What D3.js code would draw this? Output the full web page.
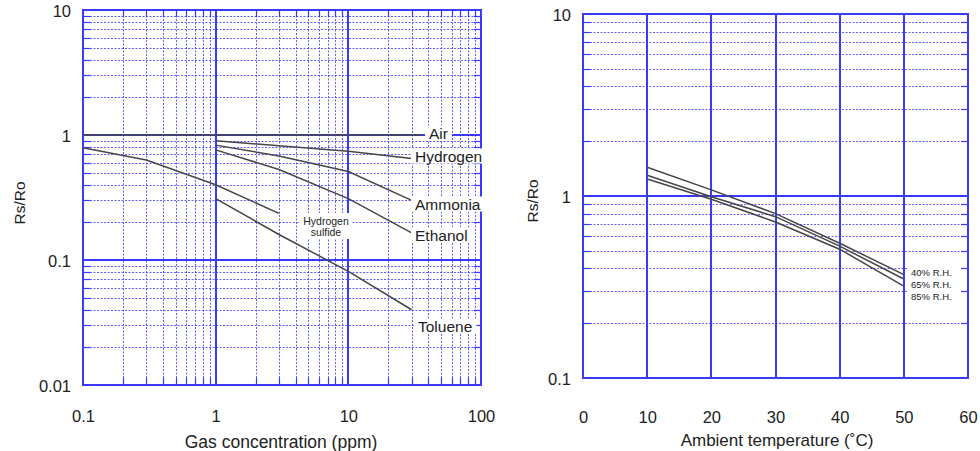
<!DOCTYPE html>
<html>
<head>
<meta charset="utf-8">
<script src="https://cdn.jsdelivr.net/npm/d3@7"></script>
<style>
  html, body { margin: 0; padding: 0; background: #fff; }
  svg text { font-family: 'Liberation Sans', Arial, sans-serif; fill: #222; }
</style>
</head>
<body>
<svg id="chart" width="980" height="451"></svg>
<script>
// ── Gas sensitivity (left chart): [ppm, Rs/Ro] ──
const airPts      = [[0.1, 1], [36, 1]];
const hydrogenPts = [[1, 0.90], [3, 0.82], [10, 0.74], [30, 0.65]];
const ammoniaPts  = [[1, 0.83], [3, 0.68], [10, 0.51], [30, 0.30]];
const ethanolPts  = [[1, 0.76], [3, 0.53], [10, 0.31], [30, 0.165]];
const h2sPts      = [[0.1, 0.79], [0.3, 0.63], [1, 0.40], [3, 0.236]];
const toluenePts  = [[1, 0.31], [3, 0.16], [10, 0.081], [30, 0.04]];

// ── Temperature dependence (right chart): [°C, Rs/Ro] ──
const rh40 = [[10, 1.44], [20, 1.08], [30, 0.80], [40, 0.55], [50, 0.37]];
const rh65 = [[10, 1.30], [20, 0.99], [30, 0.77], [40, 0.53], [50, 0.35]];
const rh85 = [[10, 1.24], [20, 0.96], [30, 0.72], [40, 0.51], [50, 0.32]];

const gasTicksX = [0.1, 1, 10, 100];
const gasTicksY = [0.01, 0.1, 1, 10];
const tempTicksX = [0, 10, 20, 30, 40, 50, 60];
const tempTicksY = [0.1, 1, 10];

const BLUE = '#3a3aff';
const LINE = '#464646';
const svg = d3.select('#chart');

function label(g, x, y, txt, size, anchor) {
    const t = g.append('text')
        .attr('x', x).attr('y', y)
        .attr('dominant-baseline', 'central')
        .attr('text-anchor', anchor || 'start')
        .attr('font-size', size + 'px')
        .text(txt);
    const b = t.node().getBBox();
    g.insert('rect', () => t.node())
        .attr('x', b.x - 4).attr('y', b.y + 1)
        .attr('width', b.width + 8).attr('height', b.height - 2)
        .attr('fill', '#fff');
    return t;
}

function frame(g, x, y, xMajor, yMajor, xMinor, yMinor) {
    const [x0, x1] = x.range();
    const [y0, y1] = y.range();
    const r = v => Math.round(v);
    // minor dashed grid
    g.append('g').selectAll('line').data(yMinor).join('line')
        .attr('x1', x0).attr('x2', x1)
        .attr('y1', d => r(y(d)) + 0.5).attr('y2', d => r(y(d)) + 0.5)
        .attr('stroke', BLUE).attr('stroke-opacity', 0.8)
        .attr('stroke-width', 1).attr('stroke-dasharray', '2,1.5');
    g.append('g').selectAll('line').data(xMinor).join('line')
        .attr('x1', d => r(x(d)) + 0.5).attr('x2', d => r(x(d)) + 0.5)
        .attr('y1', y0).attr('y2', y1)
        .attr('stroke', BLUE).attr('stroke-opacity', 0.8)
        .attr('stroke-width', 1).attr('stroke-dasharray', '2,1.5');
    // minor edge ticks
    const tk = 7;
    yMinor.forEach(d => {
        const yy = r(y(d)) + 0.5;
        g.append('line').attr('x1', x0).attr('x2', x0 + tk).attr('y1', yy).attr('y2', yy)
            .attr('stroke', BLUE).attr('stroke-width', 1.2);
        g.append('line').attr('x1', x1 - tk).attr('x2', x1).attr('y1', yy).attr('y2', yy)
            .attr('stroke', BLUE).attr('stroke-width', 1.2);
    });
    xMinor.forEach(d => {
        const xx = r(x(d)) + 0.5;
        g.append('line').attr('x1', xx).attr('x2', xx).attr('y1', y0).attr('y2', y0 - tk)
            .attr('stroke', BLUE).attr('stroke-width', 1.2);
        g.append('line').attr('x1', xx).attr('x2', xx).attr('y1', y1).attr('y2', y1 + tk)
            .attr('stroke', BLUE).attr('stroke-width', 1.2);
    });
    // major solid grid
    g.append('g').selectAll('line').data(yMajor).join('line')
        .attr('x1', x0).attr('x2', x1)
        .attr('y1', d => r(y(d))).attr('y2', d => r(y(d)))
        .attr('stroke', BLUE).attr('stroke-width', 2);
    g.append('g').selectAll('line').data(xMajor).join('line')
        .attr('x1', d => r(x(d))).attr('x2', d => r(x(d)))
        .attr('y1', y0).attr('y2', y1)
        .attr('stroke', BLUE).attr('stroke-width', 2);
    g.append('rect')
        .attr('x', x0).attr('y', y1)
        .attr('width', x1 - x0).attr('height', y0 - y1)
        .attr('fill', 'none').attr('stroke', BLUE).attr('stroke-width', 2);
}

const fmt = d => String(d);

function styleAxis(s) {
    s.select('.domain').remove();
    s.selectAll('.tick line').remove();
    s.selectAll('text').attr('font-size', '16.5px').attr('dy', '0.35em').attr('fill', '#222');
}

// ── Left chart ──
{
    const x = d3.scaleLog().domain([0.1, 100]).range([83, 481]);
    const y = d3.scaleLog().domain([0.01, 10]).range([385, 10]);
    const g = svg.append('g');

    const isDecade = v => Math.abs(Math.log10(v) - Math.round(Math.log10(v))) < 1e-6;
    const xMinor = x.ticks().filter(v => !isDecade(v));
    const yMinor = y.ticks().filter(v => !isDecade(v));
    frame(g, x, y, [1, 10], [0.1, 1], xMinor, yMinor);

    const line = d3.line().x(d => x(d[0])).y(d => y(d[1]));
    [airPts, hydrogenPts, ammoniaPts, ethanolPts, h2sPts, toluenePts].forEach(pts => {
        g.append('path').datum(pts).attr('d', line)
            .attr('fill', 'none').attr('stroke', LINE).attr('stroke-width', 1.5);
    });

    label(g, 429, 133, 'Air', 15.5);
    label(g, 415, 156, 'Hydrogen', 15.5);
    label(g, 415, 204, 'Ammonia', 15.5);
    label(g, 415, 235, 'Ethanol', 15.5);
    label(g, 418, 326, 'Toluene', 15.5);
    const hs = g.append('g');
    hs.append('rect').attr('x', 300).attr('y', 213).attr('width', 52).attr('height', 26).attr('fill', '#fff');
    hs.append('text').attr('x', 326).attr('y', 221).attr('dominant-baseline', 'central')
        .attr('text-anchor', 'middle').attr('font-size', '10.5px').text('Hydrogen');
    hs.append('text').attr('x', 326).attr('y', 232).attr('dominant-baseline', 'central')
        .attr('text-anchor', 'middle').attr('font-size', '10.5px').text('sulfide');

    const xAxis = d3.axisBottom(x).tickValues(gasTicksX).tickFormat(fmt).tickSize(0).tickPadding(0);
    g.append('g').attr('transform', 'translate(0,416)').call(xAxis).call(styleAxis);
    const yAxis = d3.axisLeft(y).tickValues(gasTicksY).tickFormat(fmt).tickSize(0).tickPadding(0);
    g.append('g').attr('transform', 'translate(71,1)').call(yAxis).call(styleAxis);

    g.append('text').attr('x', 281).attr('y', 448).attr('text-anchor', 'middle')
        .attr('font-size', '17.5px')
        .text('Gas concentration (ppm)');
    g.append('text').attr('transform', 'translate(19,203) rotate(-90)')
        .attr('text-anchor', 'middle').attr('dominant-baseline', 'central')
        .attr('font-size', '15.5px').text('Rs/Ro');
}

// ── Right chart ──
{
    const x = d3.scaleLinear().domain([0, 60]).range([583, 968]);
    const y = d3.scaleLog().domain([0.1, 10]).range([378, 14]);
    const g = svg.append('g');

    const isDecade = v => Math.abs(Math.log10(v) - Math.round(Math.log10(v))) < 1e-6;
    const yMinor = y.ticks().filter(v => !isDecade(v));
    frame(g, x, y, [10, 20, 30, 40, 50], [1], [], yMinor);

    const line = d3.line().x(d => x(d[0])).y(d => y(d[1]));
    [rh40, rh65, rh85].forEach(pts => {
        g.append('path').datum(pts).attr('d', line)
            .attr('fill', 'none').attr('stroke', LINE).attr('stroke-width', 1.5);
    });

    const lg = g.append('g');
    lg.append('rect').attr('x', 908).attr('y', 265).attr('width', 52).attr('height', 38).attr('fill', '#fff');
    ['40% R.H.', '65% R.H.', '85% R.H.'].forEach((t, i) => {
        lg.append('text').attr('x', 911).attr('y', 272 + i * 12.3)
            .attr('dominant-baseline', 'central').attr('font-size', '9.5px').text(t);
    });

    const xAxis = d3.axisBottom(x).tickValues(tempTicksX).tickFormat(fmt).tickSize(0).tickPadding(0);
    g.append('g').attr('transform', 'translate(0,417)').call(xAxis).call(styleAxis);
    const yAxis = d3.axisLeft(y).tickValues(tempTicksY).tickFormat(fmt).tickSize(0).tickPadding(0);
    g.append('g').attr('transform', 'translate(571,1)').call(yAxis).call(styleAxis);

    g.append('text').attr('x', 777).attr('y', 446).attr('text-anchor', 'middle')
        .attr('font-size', '17px')
        .text('Ambient temperature (˚C)');
    g.append('text').attr('transform', 'translate(532,201) rotate(-90)')
        .attr('text-anchor', 'middle').attr('dominant-baseline', 'central')
        .attr('font-size', '15.5px').text('Rs/Ro');
}
</script>
</body>
</html>
